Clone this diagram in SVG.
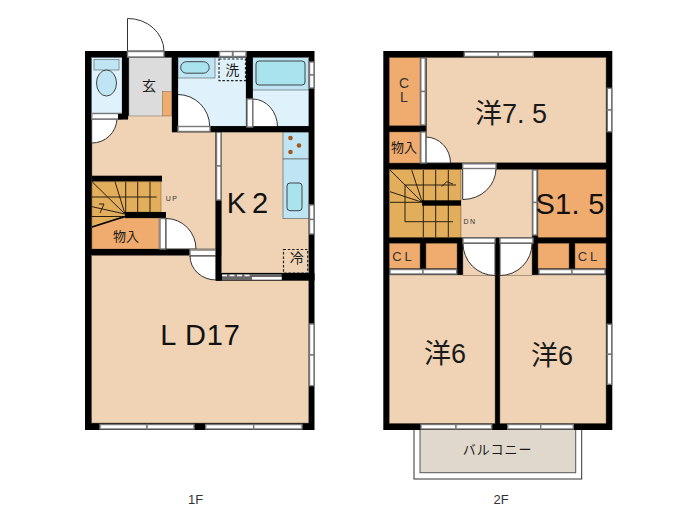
<svg xmlns="http://www.w3.org/2000/svg" width="700" height="525" viewBox="0 0 700 525">
<style>
.w{fill:#000}.p{fill:#f0d3b5;stroke:#7a6a58;stroke-width:.5}.o{fill:#f0ab6e;stroke:#7a5a38;stroke-width:.5}.s{fill:#e2ae5c;stroke:#7a5a38;stroke-width:.5}
.lb{fill:#dff1fb;stroke:#6a8a9a;stroke-width:.5}.b{fill:#bfe5f5;stroke:#555;stroke-width:.6}.c{fill:#a8e3ee;stroke:#333;stroke-width:.9}
.d{fill:#fff;stroke:#333;stroke-width:1}.win{fill:#fff;stroke:#777;stroke-width:1.4}.l{fill:none;stroke:#2a2012;stroke-width:1}.dash{fill:none;stroke:#222;stroke-width:1.2;stroke-dasharray:2.5 1.8}
text{font-family:"Noto Sans CJK JP","Liberation Sans",sans-serif;fill:#1a1a1a;text-anchor:middle}
.big{font-family:"Liberation Sans","Noto Sans CJK JP",sans-serif;font-size:29px;fill:#111}
.lat{font-family:"Liberation Sans",sans-serif;fill:#333}
</style>
<g id="floor-1">
<path class="d" d="M127.5 51V18.5A36 33 0 0 1 164 51Z"/>
<rect class="w" x="85" y="51" width="229.500" height="379"/>
<rect class="lb" x="91.700" y="57.700" width="30.300" height="55.500"/>
<rect class="b" x="94" y="59.500" width="25" height="10.500"/>
<ellipse cx="106.500" cy="83" rx="10" ry="13" fill="#bfe5f5" stroke="#444"/>
<rect x="129" y="57.700" width="42.700" height="58.500" fill="#dcdcdc" stroke="#888" stroke-width=".5"/>
<rect class="o" x="162.700" y="91.700" width="9" height="24.500"/>
<path class="p" d="M92 119H128V116H172V132H215.700V249H92Z"/>
<path class="d" d="M91.700 119H117A25 25 0 0 1 91.700 143Z"/>
<rect class="win" x="91.700" y="113.500" width="30" height="5.500"/>
<rect class="w" x="118" y="114" width="10" height="5.500"/>
<rect class="lb" x="178" y="57.700" width="68" height="68.500"/>
<rect class="b" x="178" y="57.700" width="37" height="20.300"/>
<rect class="c" x="180.700" y="61.700" width="28.500" height="11.500" rx="5.700"/>
<rect class="dash" x="219" y="59" width="26.500" height="21.700"/>
<rect class="lb" x="252.700" y="57.700" width="56" height="68.500"/>
<rect class="b" x="252.700" y="57.700" width="56" height="32.300"/>
<rect class="c" x="256" y="61" width="49" height="24" rx="3"/>
<rect class="win" x="178" y="126.500" width="32" height="5"/>
<path class="d" d="M177.700 126.500V94.500A32 32 0 0 1 209.700 126.500Z"/>
<rect class="win" x="247" y="99" width="5.700" height="28"/>
<path class="d" d="M252.700 127V99A25 28 0 0 1 277.500 127Z"/>
<rect class="w" x="92" y="175.700" width="70" height="6"/>
<rect class="o" x="92" y="218" width="67" height="31"/>
<path class="s" d="M92 181.700H161V212H125V216.500L92 227Z"/>
<path class="l" d="M125.700 182V212M137.700 182V212M150 182V212M92 197H156.700M125 214L92 181.700M125 214L115 181.700M125 214L92 206.700M92 216.500H125M99 204H104L100 213"/>
<path fill="none" stroke="#000" stroke-width="1.800" d="M125 216.500L92 227"/>
<rect class="w" x="125" y="212" width="41" height="6"/>
<rect class="w" x="85" y="249" width="105" height="6.500"/>
<rect class="win" x="160" y="218.500" width="6" height="30.500"/>
<path class="d" d="M166 249V218.500A30 30.500 0 0 1 196 249Z"/>
<rect class="p" x="91.700" y="255.500" width="217" height="167.500"/>
<rect class="p" x="190" y="249" width="26" height="7"/>
<rect class="win" x="190" y="250" width="26" height="6"/>
<path class="d" d="M216 256H190A26 24 0 0 0 216 280Z"/>
<rect class="w" x="215.700" y="132" width="6" height="148.700"/>
<rect class="win" x="216.500" y="132" width="4.500" height="34"/>
<rect class="win" x="216.500" y="166" width="4.500" height="34"/>
<rect class="p" x="221.700" y="132" width="87" height="141"/>
<rect class="b" x="283" y="132" width="25.700" height="27"/>
<rect class="b" x="283" y="159" width="25.700" height="59.700"/>
<circle cx="290.500" cy="138" r="2.300" fill="#a5561c"/><circle cx="299" cy="145.500" r="2.300" fill="#a5561c"/><circle cx="290.500" cy="152" r="2.300" fill="#a5561c"/>
<rect class="c" x="287" y="183" width="15" height="27.700" rx="3"/>
<rect class="dash" x="283.500" y="249.500" width="24.200" height="23.500"/>
<rect class="w" x="216" y="273" width="98.500" height="7.700"/>
<rect x="222" y="274" width="59.700" height="6" fill="#666"/>
<rect x="252" y="277" width="29.700" height="2.600" fill="#fff"/>
<path d="M222 275.600H252" stroke="#fff" stroke-width="1.500" stroke-dasharray="5 2.500"/>
<rect class="w" x="172" y="57" width="6" height="74.700"/>
<rect class="w" x="246" y="51" width="6.700" height="80"/>
<rect class="w" x="122" y="51" width="6" height="68"/>
<rect class="w" x="172" y="126.200" width="142" height="6"/>
<rect class="win" x="178" y="126.500" width="32" height="5"/>
<rect class="win" x="247" y="99" width="5.700" height="28"/>
<rect class="win" x="127.500" y="51.500" width="36.500" height="5.500"/>
<rect class="win" x="219.500" y="51.500" width="13" height="5"/><rect class="win" x="233" y="51.500" width="13" height="5"/>
<rect class="win" x="309.500" y="62" width="4.500" height="13"/><rect class="win" x="309.500" y="75" width="4.500" height="13"/>
<rect class="win" x="309.500" y="205" width="4.500" height="14.500"/><rect class="win" x="309.500" y="219.500" width="4.500" height="14.500"/>
<rect class="win" x="309.500" y="324" width="4.500" height="31"/><rect class="win" x="309.500" y="355" width="4.500" height="30.700"/>
<rect class="win" x="100" y="424.500" width="47" height="4.500"/><rect class="win" x="147" y="424.500" width="47" height="4.500"/>
<rect class="win" x="205.700" y="424.500" width="48" height="4.500"/><rect class="win" x="253.700" y="424.500" width="48.300" height="4.500"/>
<text x="149" y="91" font-size="14">玄</text>
<text x="232.300" y="75" font-size="14">洗</text>
<text x="296.700" y="263" font-size="14">冷</text>
<text x="126" y="241" font-size="13">物入</text>
<text class="lat" x="172" y="200.500" font-size="7" letter-spacing="1.500">UP</text>
<text class="big" x="250.500" y="213" letter-spacing="6">K2</text>
<text class="big" x="200.500" y="345" xml:space="preserve" letter-spacing=".8">L D17</text>
<text class="lat" x="195.500" y="503.500" font-size="13">1F</text>
</g>
<g id="floor-2">
<rect class="d" x="414" y="428" width="167.700" height="51"/>
<rect x="420" y="428" width="155.700" height="44.700" fill="#e0d8cc" stroke="#555"/>
<rect class="w" x="383.300" y="51" width="229" height="379"/>
<rect class="o" x="389.300" y="57.700" width="30.700" height="68"/>
<rect class="p" x="426.700" y="57.700" width="179.300" height="105"/>
<rect class="o" x="389.300" y="132" width="30.700" height="31"/>
<rect class="win" x="420.800" y="58" width="4.500" height="33.500"/><rect class="win" x="420.800" y="91.500" width="4.500" height="33.500"/>
<path class="d" d="M426 163V137A25 26 0 0 1 450.500 163Z"/>
<rect class="win" x="420.800" y="132" width="5" height="31"/>
<rect class="s" x="389.300" y="169.500" width="71.700" height="67.800"/>
<rect class="p" x="461" y="169.500" width="71" height="67.800"/>
<rect class="o" x="538" y="169.500" width="68" height="67.800"/>
<path class="l" d="M423.300 170V237M435.700 170V237M448.300 170V237M405 185H456M405 185V221.700H453M422.300 202.300L390 170M422.300 202.300L411.700 170M422.300 202.300L390 191.700M422.300 202.300H390M441.700 186.700L446.700 181.700L453 184"/>
<rect class="w" x="422" y="200.300" width="39" height="5.400"/>
<path class="d" d="M462.700 168.500H496A33 31 0 0 1 462.700 199.500Z"/>
<rect class="win" x="462.700" y="163.800" width="33.300" height="4.700"/>
<rect class="win" x="532.800" y="170" width="4.200" height="32.500"/><rect class="win" x="532.800" y="202.500" width="4.200" height="32.500"/>
<rect class="o" x="389.300" y="243.300" width="30.700" height="25"/><rect class="o" x="426" y="243.300" width="31" height="25"/>
<rect class="o" x="538" y="243.300" width="31" height="25"/><rect class="o" x="575" y="243.300" width="31" height="25"/>
<rect class="p" x="389.300" y="275" width="105.700" height="148.300"/>
<rect class="p" x="463" y="243.300" width="32" height="32"/>
<rect class="p" x="500" y="275" width="106" height="148.300"/>
<rect class="p" x="500" y="243.300" width="32" height="32"/>
<path class="d" d="M495 243.300V275.500A32 32 0 0 1 463 243.300Z"/>
<path class="d" d="M500 243.300V275.500A32 32 0 0 0 532 243.300Z"/>
<rect class="win" x="463" y="238" width="32" height="5"/><rect class="win" x="500" y="238" width="33" height="5"/>
<rect class="win" x="390" y="269.500" width="33" height="4.500"/><rect class="win" x="423" y="269.500" width="33.700" height="4.500"/>
<rect class="win" x="539" y="269.500" width="33" height="4.500"/><rect class="win" x="572" y="269.500" width="33" height="4.500"/>
<rect class="win" x="464.300" y="52" width="34" height="4.500"/><rect class="win" x="498.300" y="52" width="35" height="4.500"/>
<rect class="win" x="607.300" y="88.300" width="4.400" height="21.700"/><rect class="win" x="607.300" y="110" width="4.400" height="21.700"/>
<rect class="win" x="607.300" y="324.300" width="4.400" height="30"/><rect class="win" x="607.300" y="354.300" width="4.400" height="30"/>
<rect class="win" x="421" y="424.500" width="35" height="4.500"/><rect class="win" x="456" y="424.500" width="35.700" height="4.500"/>
<rect class="win" x="507.700" y="424.500" width="33" height="4.500"/><rect class="win" x="540.700" y="424.500" width="32.600" height="4.500"/>
<text class="lat" x="404" y="87.500" font-size="14">C</text>
<text class="lat" x="404" y="102" font-size="14">L</text>
<text x="404" y="152" font-size="13">物入</text>
<text class="lat" x="403.500" y="261" font-size="13" letter-spacing="3">CL</text>
<text class="lat" x="589" y="261" font-size="13" letter-spacing="3">CL</text>
<text class="lat" x="470" y="224" font-size="7" letter-spacing="1.500">DN</text>
<text x="511" y="123" font-size="27" xml:space="preserve"><tspan>洋</tspan><tspan font-family="Liberation Sans">7. 5</tspan></text>
<text class="big" x="570" y="214" letter-spacing=".3" xml:space="preserve">S1. 5</text>
<text x="445" y="363" font-size="27">洋<tspan font-family="Liberation Sans">6</tspan></text>
<text x="552" y="365" font-size="27">洋<tspan font-family="Liberation Sans">6</tspan></text>
<text x="497.700" y="454" font-size="13" fill="#333" letter-spacing="1">バルコニー</text>
<text class="lat" x="501" y="503.500" font-size="13">2F</text>
</g>
</svg>
